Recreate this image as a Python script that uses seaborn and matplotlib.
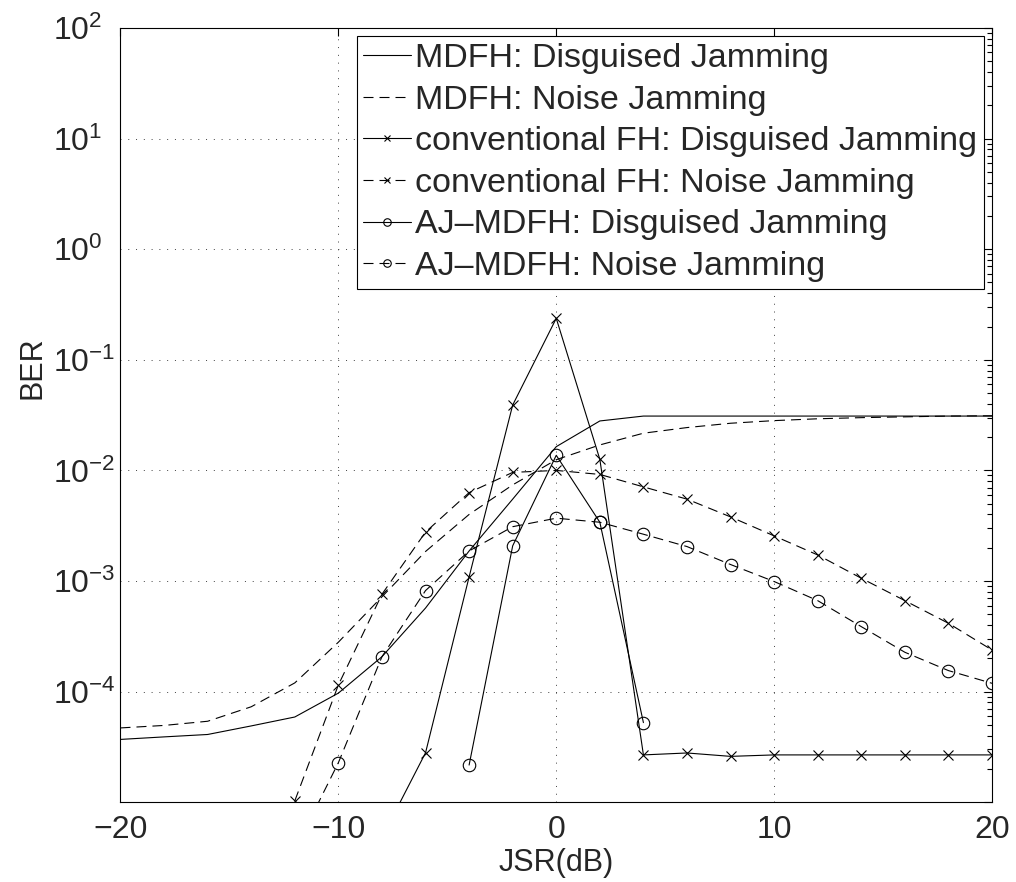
import numpy as np
import matplotlib
matplotlib.use("Agg")
import matplotlib.pyplot as plt
import seaborn as sns
from matplotlib.ticker import FixedLocator, LogLocator, NullFormatter, FuncFormatter

# ---------------- data ----------------
jsr_mdfh = [-20, -18, -16, -14, -12, -10, -8, -6, -4, -2, 0, 2, 4, 6, 8, 10, 12, 14, 16, 18, 20]
ber_mdfh_disguised = [3.7e-5, 3.9e-5, 4.1e-5, 4.9e-5, 5.9e-5, 9.7e-5, 2.07e-4, 5.7e-4, 1.87e-3, 5.5e-3,
                      1.64e-2, 2.8e-2, 3.1e-2, 3.1e-2, 3.1e-2, 3.1e-2, 3.1e-2, 3.1e-2, 3.1e-2, 3.1e-2, 3.1e-2]
ber_mdfh_noise = [4.7e-5, 4.95e-5, 5.4e-5, 7.3e-5, 1.2e-4, 2.8e-4, 7.2e-4, 1.85e-3, 4.0e-3, 7.4e-3,
                  1.25e-2, 1.7e-2, 2.17e-2, 2.44e-2, 2.67e-2, 2.82e-2, 2.93e-2, 3.0e-2, 3.05e-2, 3.1e-2, 3.12e-2]

jsr_conv_dis = [-8, -6, -4, -2, 0, 2, 4, 6, 8, 10, 12, 14, 16, 18, 20]
ber_conv_disguised = [4.8e-6, 2.8e-5, 1.09e-3, 3.9e-2, 0.237, 1.26e-2, 2.68e-5, 2.79e-5, 2.6e-5,
                      2.68e-5, 2.68e-5, 2.68e-5, 2.68e-5, 2.68e-5, 2.68e-5]

jsr_conv_noise = [-12, -10, -8, -6, -4, -2, 0, 2, 4, 6, 8, 10, 12, 14, 16, 18, 20]
ber_conv_noise = [1.03e-5, 1.15e-4, 7.6e-4, 2.77e-3, 6.3e-3, 9.6e-3, 1.0e-2, 9.2e-3, 7.1e-3, 5.5e-3,
                  3.8e-3, 2.56e-3, 1.72e-3, 1.06e-3, 6.65e-4, 4.15e-4, 2.38e-4]

jsr_aj_dis = [-4, -2, 0, 2, 4]
ber_aj_disguised = [2.17e-5, 2.08e-3, 1.37e-2, 3.4e-3, 5.25e-5]

jsr_aj_noise = [-12, -10, -8, -6, -4, -2, 0, 2, 4, 6, 8, 10, 12, 14, 16, 18, 20]
ber_aj_noise = [3.7e-6, 2.28e-5, 2.07e-4, 8.2e-4, 1.87e-3, 3.1e-3, 3.7e-3, 3.4e-3, 2.65e-3, 2.05e-3,
                1.41e-3, 9.9e-4, 6.65e-4, 3.87e-4, 2.27e-4, 1.55e-4, 1.19e-4]

labels = ["MDFH: Disguised Jamming",
          "MDFH: Noise Jamming",
          "conventional FH: Disguised Jamming",
          "conventional FH: Noise Jamming",
          "AJ\u2013MDFH: Disguised Jamming",
          "AJ\u2013MDFH: Noise Jamming"]

x_ticks = [-20, -10, 0, 10, 20]
y_decades = [-5, -4, -3, -2, -1, 0, 1, 2]

# ---------------- style ----------------
sns.set_style("white")
plt.rcParams["font.family"] = ["Liberation Sans", "DejaVu Sans"]
plt.rcParams["mathtext.fontset"] = "custom"
plt.rcParams["mathtext.rm"] = "Liberation Sans"
plt.rcParams["mathtext.it"] = "Liberation Sans:italic"
plt.rcParams["mathtext.bf"] = "Liberation Sans:bold"
plt.rcParams["axes.unicode_minus"] = True

fig = plt.figure(figsize=(10.16, 8.82), dpi=100)
ax = fig.add_axes([0.1186, 0.0904, 0.8578, 0.8779])

dash = (9, 5.4)
specs = [
    (jsr_mdfh, ber_mdfh_disguised, "-", None, 0),
    (jsr_mdfh, ber_mdfh_noise, "--", None, 0),
    (jsr_conv_dis, ber_conv_disguised, "-", "x", 6.5),
    (jsr_conv_noise, ber_conv_noise, "--", "x", 6.5),
    (jsr_aj_dis, ber_aj_disguised, "-", "o", 9),
    (jsr_aj_noise, ber_aj_noise, "--", "o", 9),
]

for (xs, ys, ls, mk, ms), lab in zip(specs, labels):
    kw = dict(color="k", linewidth=0.8, linestyle=ls, label=lab)
    if mk is not None:
        kw.update(marker=mk, markersize=ms, markerfacecolor="none",
                  markeredgecolor="k", markeredgewidth=0.8)
    sns.lineplot(x=xs, y=ys, ax=ax, estimator=None, sort=False, **kw)
    line = ax.get_lines()[-1]
    if ls == "--":
        line.set_dashes(dash)

ax.set_yscale("log")
ax.set_xlim(-20, 20)
ax.set_ylim(1e-5, 1e2)
ax.set_xticks(x_ticks)
ax.yaxis.set_major_locator(FixedLocator([10.0 ** d for d in y_decades]))
ax.yaxis.set_minor_locator(LogLocator(base=10, subs=np.arange(2, 10), numticks=20))
ax.yaxis.set_minor_formatter(NullFormatter())


def yfmt(v, pos):
    e = int(round(np.log10(v)))
    if e == -5:
        return ""
    return r"$10^{%d}$" % e


ax.yaxis.set_major_formatter(FuncFormatter(yfmt))

ax.grid(True, which="major", color="0.25", linestyle=(0, (1, 7)), linewidth=0.7)
ax.set_axisbelow(True)

ax.tick_params(which="both", direction="in", top=True, right=True, width=0.8, color="k")
ax.tick_params(which="major", length=6)
ax.tick_params(which="minor", length=3.5)
ax.tick_params(axis="x", labelsize=23, pad=9)
ax.tick_params(axis="y", labelsize=23, pad=48.5)
plt.setp(ax.get_yticklabels(), ha="left")
for s in ax.spines.values():
    s.set_linewidth(0.8)
    s.set_color("k")

ax.set_xlabel("JSR(dB)", fontsize=22)
ax.xaxis.set_label_coords(0.5, -0.078)
ax.xaxis.label.set_va("center")
ax.set_ylabel("BER", fontsize=22)
ax.yaxis.set_label_coords(-0.101, 0.561)
ax.yaxis.label.set_va("center")

leg = ax.legend(loc="upper right", fontsize=24.5, frameon=True, fancybox=False, shadow=False,
                framealpha=1, edgecolor="k", handlelength=1.41, handletextpad=0.1,
                labelspacing=0.31, borderpad=0.2, borderaxespad=0.25, markerscale=0.6)
leg.get_frame().set_linewidth(0.8)

fig.savefig("out.png", dpi=100, facecolor="white")
